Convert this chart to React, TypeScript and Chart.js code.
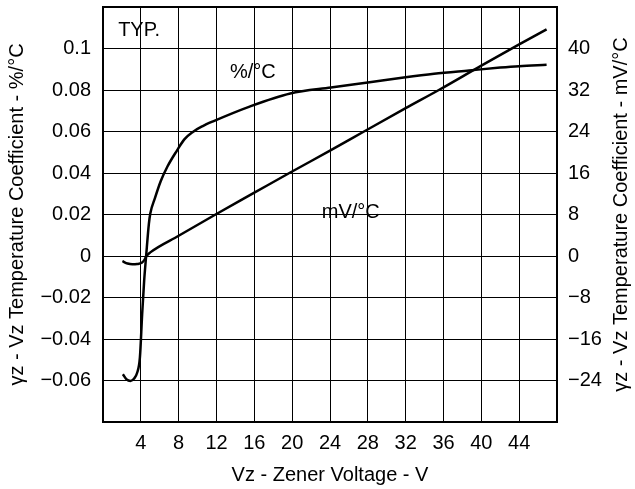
import { useEffect, useRef } from "react";
import { Chart, registerables } from "chart.js";

Chart.register(...registerables);

const FONT = '"Liberation Sans", Arial, Helvetica, sans-serif';

// Axis ticks
const xTickValues = [0, 4, 8, 12, 16, 20, 24, 28, 32, 36, 40, 44, 48];
const yPctTickValues = [-0.08, -0.06, -0.04, -0.02, 0, 0.02, 0.04, 0.06, 0.08, 0.1, 0.12];
const yMvTickValues = [-32, -24, -16, -8, 0, 8, 16, 24, 32, 40, 48];

// %/°C curve
const pctVoltage = [2.1, 2.5, 2.9, 3.3, 3.6, 3.9, 4.14, 4.35, 4.56, 4.85, 5.0, 5.5, 6.1, 6.8, 7.8, 8.6, 9.5, 10.5, 11.7, 15.5, 19.8, 24.1, 28, 31.8, 35, 38.7, 42, 44, 46.9];
const pctCoef = [-0.057, -0.0595, -0.0602, -0.059, -0.0564, -0.049, -0.028, -0.012, 0, 0.0155, 0.0205, 0.028, 0.036, 0.043, 0.0507, 0.0562, 0.0598, 0.0625, 0.065, 0.072, 0.0783, 0.0812, 0.0836, 0.086, 0.0878, 0.0894, 0.0908, 0.0915, 0.0922];

// mV/°C curve
const mvVoltage = [2.05, 2.6, 3.1, 3.6, 4.1, 4.4, 4.6, 5.0, 8, 11.9, 16, 19.8, 24, 27.5, 32, 35.6, 40, 44, 46.9];
const mvCoef = [-1.0, -1.45, -1.6, -1.55, -1.3, -0.7, 0, 0.7, 3.9, 8, 12.2, 16.1, 20.3, 23.9, 28.5, 32.1, 36.7, 40.8, 43.7];

// Texts
const xTitle = "Vz - Zener Voltage - V";
const yLeftTitle = "γz - Vz Temperature Coefficient - %/°C";
const yRightTitle = "γz - Vz Temperature Coefficient - mV/°C";
const notes = [
  { text: "TYP.", x: 1.6, y: 0.1087, align: "left" as CanvasTextAlign },
  { text: "%/°C", x: 15.85, y: 0.0884, align: "center" as CanvasTextAlign },
  { text: "mV/°C", x: 26.2, y: 0.0208, align: "center" as CanvasTextAlign },
];

const fmt = (v: number) => {
  const r = Math.round(Math.abs(v) * 100) / 100;
  if (r === 0) return "0";
  return (v < 0 ? "\u2212" : "") + String(r);
};

const zeroPad = (s: any) => {
  s.paddingTop = 0;
  s.paddingBottom = 0;
  s.paddingLeft = 0;
  s.paddingRight = 0;
};

export default function App() {
  const ref = useRef<HTMLCanvasElement>(null);
  useEffect(() => {
    document.body.style.margin = "0";
    const canvas = ref.current!;
    const decor = {
      id: "decor",
      afterDatasetsDraw(chart: any) {
        const { ctx, chartArea: a, scales } = chart;
        ctx.save();
        ctx.strokeStyle = "#000";
        ctx.lineWidth = 2;
        ctx.strokeRect(a.left, a.top, a.right - a.left, a.bottom - a.top);
        ctx.fillStyle = "#000";
        ctx.font = `20px ${FONT}`;
        ctx.textBaseline = "middle";
        for (const n of notes) {
          ctx.textAlign = n.align;
          ctx.fillText(n.text, scales.x.getPixelForValue(n.x), scales.y.getPixelForValue(n.y));
        }
        ctx.textAlign = "center";
        ctx.fillText(xTitle, (a.left + a.right) / 2, 475);
        const cy = (a.top + a.bottom) / 2;
        ctx.save();
        ctx.translate(17, cy);
        ctx.rotate(-Math.PI / 2);
        ctx.fillText(yLeftTitle, 0, 0);
        ctx.restore();
        ctx.save();
        ctx.translate(621, cy);
        ctx.rotate(-Math.PI / 2);
        ctx.fillText(yRightTitle, 0, 0);
        ctx.restore();
        ctx.restore();
      },
    };
    const chart = new Chart(canvas, {
      type: "line",
      data: {
        datasets: [
          {
            label: "%/°C",
            data: pctVoltage.map((x, i) => ({ x, y: pctCoef[i] })),
            yAxisID: "y",
            borderColor: "#000",
            borderWidth: 2.5,
            pointRadius: 0,
            cubicInterpolationMode: "monotone",
            fill: false,
          },
          {
            label: "mV/°C",
            data: mvVoltage.map((x, i) => ({ x, y: mvCoef[i] })),
            yAxisID: "y1",
            borderColor: "#000",
            borderWidth: 2.5,
            pointRadius: 0,
            cubicInterpolationMode: "monotone",
            fill: false,
          },
        ],
      },
      options: {
        responsive: false,
        animation: false,
        layout: { padding: { top: 7, left: 0, right: 0, bottom: 0 } },
        plugins: { legend: { display: false }, tooltip: { enabled: false } },
        scales: {
          x: {
            type: "linear",
            min: 0,
            max: 48,
            afterBuildTicks: (s: any) => {
              s.ticks = xTickValues.map((v) => ({ value: v }));
            },
            afterFit: (s: any) => {
              s.height = 67;
              zeroPad(s);
            },
            ticks: {
              autoSkip: false,
              maxRotation: 0,
              padding: 9,
              color: "#000",
              font: { family: FONT, size: 20 },
              callback: (v: any) => (v === 0 || v === 48 ? "" : String(v)),
            },
            grid: {
              drawTicks: false,
              lineWidth: 1,
              color: (c: any) => (c.tick && (c.tick.value === 0 || c.tick.value === 48) ? "rgba(0,0,0,0)" : "#000"),
            },
            border: { display: false },
          },
          y: {
            type: "linear",
            position: "left",
            min: -0.08,
            max: 0.12,
            afterBuildTicks: (s: any) => {
              s.ticks = yPctTickValues.map((v) => ({ value: v }));
            },
            afterFit: (s: any) => {
              s.width = 103;
              zeroPad(s);
            },
            ticks: {
              padding: 12,
              color: "#000",
              font: { family: FONT, size: 20 },
              callback: (v: any) => (Math.abs(v + 0.08) < 1e-9 || Math.abs(v - 0.12) < 1e-9 ? "" : fmt(v)),
            },
            grid: {
              drawTicks: false,
              lineWidth: 1,
              color: (c: any) =>
                c.tick && (Math.abs(c.tick.value + 0.08) < 1e-9 || Math.abs(c.tick.value - 0.12) < 1e-9) ? "rgba(0,0,0,0)" : "#000",
            },
            border: { display: false },
          },
          y1: {
            type: "linear",
            position: "right",
            min: -32,
            max: 48,
            afterBuildTicks: (s: any) => {
              s.ticks = yMvTickValues.map((v) => ({ value: v }));
            },
            afterFit: (s: any) => {
              s.width = 78;
              zeroPad(s);
            },
            ticks: {
              padding: 11,
              color: "#000",
              font: { family: FONT, size: 20 },
              callback: (v: any) => (v === -32 || v === 48 ? "" : v < 0 ? "\u2212" + Math.abs(v) : String(v)),
            },
            grid: { display: false, drawTicks: false },
            border: { display: false },
          },
        },
      },
      plugins: [decor],
    } as any);
    return () => chart.destroy();
  }, []);
  return (
    <div style={{ width: 635, height: 489 }}>
      <canvas ref={ref} width={635} height={489} style={{ display: "block" }} />
    </div>
  );
}
